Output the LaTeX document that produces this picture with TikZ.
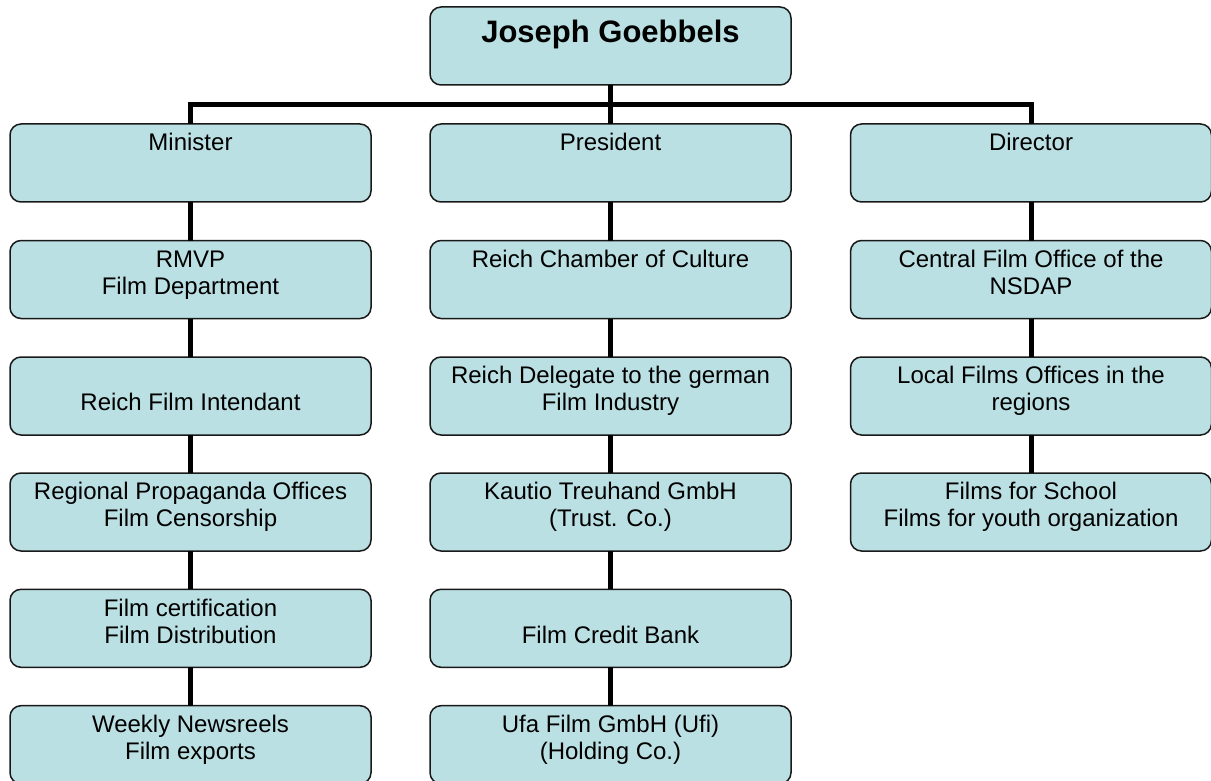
\documentclass[tikz,border=0pt]{standalone}
\usepackage{fontspec}
\setmainfont{Liberation Sans}
\definecolor{boxfill}{RGB}{187,224,227}
\newcommand{\bxt}[2][26.7]{\parbox[t][78pt][t]{361pt}{\centering\fontsize{24}{27}\selectfont\rule{0pt}{#1pt}#2}}
\tikzset{
  box/.style={draw=black!90, line width=1.5pt, fill=boxfill, rounded corners=11pt,
    minimum width=361pt, minimum height=78pt, inner sep=0pt, outer sep=0pt, anchor=north},
  conn/.style={line width=5pt, black},
}
\begin{document}
\begin{tikzpicture}[x=1pt,y=-1pt]
\useasboundingbox (0,0) rectangle (1211,781);
% top
\node[box] (g) at (610.5,7) {\parbox[t][78pt][t]{361pt}{\centering\fontsize{31}{34}\selectfont\bfseries\rule{0pt}{36pt}Joseph Goebbels}};
% column 1
\node[box] (m)  at (190.5,124)   {\bxt{Minister}};
\node[box] (m1) at (190.5,240.5) {\bxt{RMVP\\Film Department}};
\node[box] (m2) at (190.5,357)   {\bxt[53.7]{Reich Film Intendant}};
\node[box] (m3) at (190.5,473)   {\bxt{Regional Propaganda Offices\\Film Censorship}};
\node[box] (m4) at (190.5,589.3) {\bxt{Film certification\\Film Distribution}};
\node[box] (m5) at (190.5,705.7) {\bxt{Weekly Newsreels\\Film exports}};
% column 2
\node[box] (p)  at (610.5,124)   {\bxt{President}};
\node[box] (p1) at (610.5,240.5) {\bxt{Reich Chamber of Culture}};
\node[box] (p2) at (610.5,357)   {\bxt{Reich Delegate to the german\\Film Industry}};
\node[box] (p3) at (610.5,473)   {\bxt{Kautio Treuhand GmbH\\(Trust. Co.)}};
\node[box] (p4) at (610.5,589.3) {\bxt[53.7]{Film Credit Bank}};
\node[box] (p5) at (610.5,705.7) {\bxt{Ufa Film GmbH (Ufi)\\(Holding Co.)}};
% column 3
\node[box] (d)  at (1031,124)   {\bxt{Director}};
\node[box] (d1) at (1031,240.5) {\bxt{Central Film Office of the\\NSDAP}};
\node[box] (d2) at (1031,357)   {\bxt{Local Films Offices in the\\regions}};
\node[box] (d3) at (1031,473)   {\bxt{Films for School\\Films for youth organization}};
% connectors
\coordinate (bar) at (610.5,104.5);
\draw[conn] (g.south) -- (p.north);
\draw[conn] (m.north) |- (bar) -| (d.north);
\draw[conn] (m.south) -- (m1.north);
\draw[conn] (m1.south) -- (m2.north);
\draw[conn] (m2.south) -- (m3.north);
\draw[conn] (m3.south) -- (m4.north);
\draw[conn] (m4.south) -- (m5.north);
\draw[conn] (p.south) -- (p1.north);
\draw[conn] (p1.south) -- (p2.north);
\draw[conn] (p2.south) -- (p3.north);
\draw[conn] (p3.south) -- (p4.north);
\draw[conn] (p4.south) -- (p5.north);
\draw[conn] (d.south) -- (d1.north);
\draw[conn] (d1.south) -- (d2.north);
\draw[conn] (d2.south) -- (d3.north);
\end{tikzpicture}
\end{document}
